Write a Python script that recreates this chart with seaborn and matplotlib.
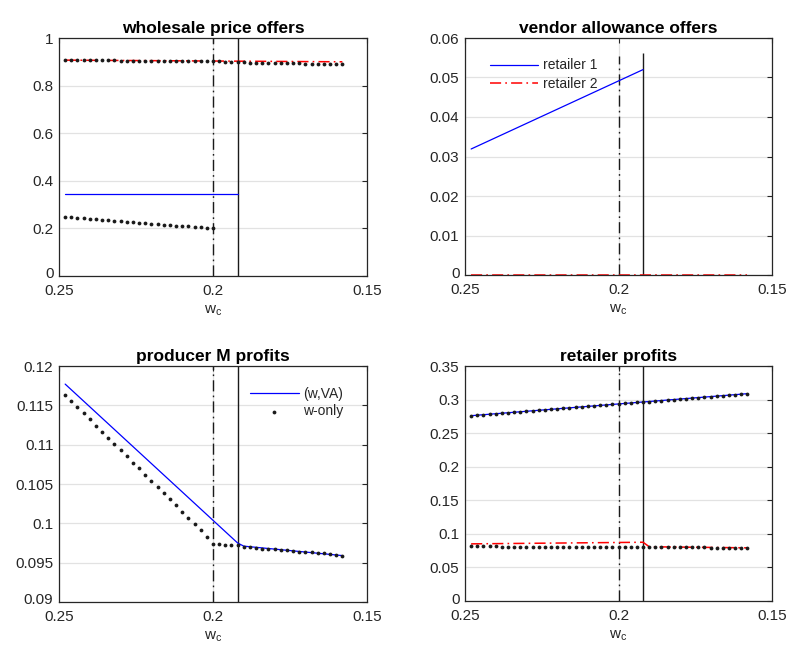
import matplotlib
matplotlib.use("Agg")
import matplotlib.pyplot as plt
import matplotlib.transforms as mtransforms
import seaborn as sns

# ---------------- data ----------------
wc = [0.248, 0.246, 0.244, 0.242, 0.240, 0.238, 0.236, 0.234, 0.232, 0.230,
      0.228, 0.226, 0.224, 0.222, 0.220, 0.218, 0.216, 0.214, 0.212, 0.210,
      0.208, 0.206, 0.204, 0.202, 0.200, 0.198, 0.196, 0.194, 0.192, 0.190,
      0.188, 0.186, 0.184, 0.182, 0.180, 0.178, 0.176, 0.174, 0.172, 0.170,
      0.168, 0.166, 0.164, 0.162, 0.160, 0.158]

wc_dashdot = 0.200
wc_solid = 0.192

# wholesale price offers
w1_va_x = [0.248, 0.192]
w1_va = [0.344, 0.344]
w2_va_x = [0.248, 0.158]
w2_va = [0.907, 0.900]
w1_only = [0.248, 0.246, 0.244, 0.242, 0.240, 0.238, 0.236, 0.234, 0.232, 0.230,
           0.228, 0.226, 0.224, 0.222, 0.220, 0.218, 0.216, 0.214, 0.212, 0.210,
           0.208, 0.206, 0.204, 0.202, 0.201]
w2_only = [0.907, 0.907, 0.907, 0.907, 0.906, 0.906, 0.906, 0.906, 0.906, 0.905,
           0.905, 0.905, 0.905, 0.905, 0.904, 0.904, 0.904, 0.904, 0.904, 0.903,
           0.903, 0.903, 0.903, 0.903, 0.902, 0.902, 0.901, 0.900, 0.899, 0.898,
           0.897, 0.897, 0.896, 0.896, 0.895, 0.894, 0.894, 0.893, 0.893, 0.892,
           0.892, 0.891, 0.891, 0.890, 0.889, 0.889]

# vendor allowance offers
va1_x = [0.248, 0.192]
va1 = [0.0319, 0.0520]
va2_x = [0.248, 0.158]
va2 = [0.0, 0.0]
va_vline_top = [0.0555, 0.0563]   # dash-dot, solid

# producer M profits
pm_va_x = [0.248, 0.192, 0.190, 0.158]
pm_va = [0.1177, 0.0975, 0.0971, 0.0959]
pm_w = [0.1163, 0.1155, 0.1148, 0.1140, 0.1132, 0.1124, 0.1116, 0.1109, 0.1101, 0.1093,
        0.1085, 0.1077, 0.1070, 0.1062, 0.1054, 0.1046, 0.1038, 0.1031, 0.1023, 0.1015,
        0.1007, 0.0999, 0.0991, 0.0983, 0.0974, 0.0974, 0.0973, 0.0972, 0.0972, 0.0970,
        0.0970, 0.0969, 0.0968, 0.0968, 0.0967, 0.0966, 0.0966, 0.0965, 0.0964, 0.0964,
        0.0963, 0.0962, 0.0962, 0.0961, 0.0960, 0.0959]

# retailer profits
rp1_va_x = [0.248, 0.158]
rp1_va = [0.2760, 0.3088]
rp2_va_x = [0.248, 0.192, 0.190, 0.158]
rp2_va = [0.0851, 0.0875, 0.0808, 0.0792]
rp1_w = [0.2760, 0.2767, 0.2775, 0.2782, 0.2789, 0.2796, 0.2804, 0.2811, 0.2818, 0.2826,
         0.2833, 0.2840, 0.2847, 0.2855, 0.2862, 0.2869, 0.2876, 0.2884, 0.2891, 0.2898,
         0.2906, 0.2913, 0.2920, 0.2927, 0.2935, 0.2942, 0.2949, 0.2957, 0.2964, 0.2971,
         0.2978, 0.2986, 0.2993, 0.3000, 0.3007, 0.3015, 0.3022, 0.3029, 0.3037, 0.3044,
         0.3051, 0.3058, 0.3066, 0.3073, 0.3080, 0.3088]
rp2_w = [0.0812, 0.0812, 0.0812, 0.0812, 0.0812, 0.0811, 0.0811, 0.0811, 0.0811, 0.0811,
         0.0811, 0.0810, 0.0810, 0.0810, 0.0810, 0.0810, 0.0810, 0.0809, 0.0809, 0.0809,
         0.0809, 0.0809, 0.0809, 0.0808, 0.0808, 0.0808, 0.0808, 0.0808, 0.0808, 0.0806,
         0.0805, 0.0804, 0.0803, 0.0802, 0.0801, 0.0800, 0.0799, 0.0798, 0.0797, 0.0796,
         0.0795, 0.0794, 0.0793, 0.0792, 0.0791, 0.0790]

xticks = [0.25, 0.2, 0.15]
xticklabels = ["0.25", "0.2", "0.15"]

titles = ["wholesale price offers", "vendor allowance offers",
          "producer M profits", "retailer profits"]

# ---------------- style ----------------
sns.set_theme(style="white")
plt.rcParams['font.family'] = ['Liberation Sans', 'DejaVu Sans']
plt.rcParams['mathtext.default'] = 'regular'
plt.rcParams['lines.scale_dashes'] = False

DK = '#262626'
GRID = '#e2e2e2'
BLUE = '#0000ff'
RED = '#ff0000'
DASHDOT = (8, 3, 1.2, 3)
LW = 0.9
DOT_S = 7.5

fig = plt.figure(figsize=(7.87, 6.48), dpi=100)
W, H = 787, 648


def add_ax(l, r, t, b):
    return fig.add_axes([l / W, 1 - b / H, (r - l) / W, (b - t) / H])


ax_tl = add_ax(59, 367, 38, 276)
ax_tr = add_ax(465, 772, 38, 275)
ax_bl = add_ax(59, 367, 366, 602)
ax_br = add_ax(465, 772, 366, 601)


def style(ax, title, ylim, yticks, yticklabels):
    ax.set_xlim(0.25, 0.15)
    ax.set_xticks(xticks)
    ax.set_xticklabels(xticklabels)
    ax.set_ylim(*ylim)
    ax.set_yticks(yticks)
    ax.set_yticklabels(yticklabels)
    ax.grid(True, color=GRID, linewidth=0.9)
    ax.set_axisbelow(True)
    ax.tick_params(direction='in', length=3.5, width=0.8, top=True, right=True,
                   labelsize=11, colors=DK)
    ax.tick_params(axis='x', pad=5.5)
    ax.tick_params(axis='y', pad=4.0)
    for s in ax.spines.values():
        s.set_color(DK)
        s.set_linewidth(0.9)
        s.set_zorder(5)
    ax.set_title(title, fontsize=12.5, fontweight='bold', pad=3.5, color='black')
    ax.set_xlabel(r'$w_c$', fontsize=11, labelpad=4, color=DK)
    ax.set_ylabel('')
    # lift the lowest y tick label slightly, as in the reference
    lab = ax.get_yticklabels()[0]
    lab.set_transform(lab.get_transform() +
                      mtransforms.ScaledTranslation(0, 3 / 100, fig.dpi_scale_trans))


def vlines(ax, tops=None):
    if tops is None:
        ax.axvline(wc_dashdot, color='k', lw=1.0, dashes=DASHDOT, zorder=3)
        ax.axvline(wc_solid, color='k', lw=1.0, zorder=3)
    else:
        ax.vlines(wc_dashdot, 0, tops[0], color='k', lw=1.0, zorder=3,
                  linestyles=[(0, DASHDOT)])
        ax.vlines(wc_solid, 0, tops[1], color='k', lw=1.0, zorder=3)


def dashdot_line(ax, x, y, color, label=None, clip=True):
    sns.lineplot(x=x, y=y, ax=ax, color=color, linewidth=1.1, sort=False,
                 estimator=None, label=label, legend=False)
    ln = ax.lines[-1]
    ln.set_dashes(DASHDOT)
    ln.set_clip_on(clip)
    ln.set_zorder(4)


def solid_line(ax, x, y, color, label=None):
    sns.lineplot(x=x, y=y, ax=ax, color=color, linewidth=LW, sort=False,
                 estimator=None, label=label, legend=False)
    ax.lines[-1].set_zorder(4)


def dots(ax, x, y, label=None):
    sns.scatterplot(x=x, y=y, ax=ax, color='k', s=DOT_S, linewidth=0,
                    label=label, legend=False, zorder=6)


# ---- wholesale price offers ----
vlines(ax_tl)
solid_line(ax_tl, w1_va_x, w1_va, BLUE)
dashdot_line(ax_tl, w2_va_x, w2_va, RED)
dots(ax_tl, wc[:len(w1_only)], w1_only)
dots(ax_tl, wc, w2_only)
style(ax_tl, titles[0], (0, 1), [0, 0.2, 0.4, 0.6, 0.8, 1],
      ["0", "0.2", "0.4", "0.6", "0.8", "1"])

# ---- vendor allowance offers ----
vlines(ax_tr, va_vline_top)
solid_line(ax_tr, va1_x, va1, BLUE, label='retailer 1')
dashdot_line(ax_tr, va2_x, va2, RED, label='retailer 2', clip=False)
style(ax_tr, titles[1], (0, 0.06), [0, 0.01, 0.02, 0.03, 0.04, 0.05, 0.06],
      ["0", "0.01", "0.02", "0.03", "0.04", "0.05", "0.06"])
h, l = ax_tr.get_legend_handles_labels()
ax_tr.legend(h, l, loc='upper left', bbox_to_anchor=(0.08, 0.914), frameon=False,
             fontsize=10, handlelength=3.5, handletextpad=0.35, borderpad=0,
             borderaxespad=0, labelspacing=0.35)

# ---- producer M profits ----
vlines(ax_bl)
solid_line(ax_bl, pm_va_x, pm_va, BLUE, label='(w,VA)')
dots(ax_bl, wc, pm_w, label='w-only')
style(ax_bl, titles[2], (0.09, 0.12), [0.09, 0.095, 0.1, 0.105, 0.11, 0.115, 0.12],
      ["0.09", "0.095", "0.1", "0.105", "0.11", "0.115", "0.12"])
h, l = ax_bl.get_legend_handles_labels()
ax_bl.legend(h, l, loc='upper left', bbox_to_anchor=(0.62, 0.912), frameon=False,
             fontsize=10, handlelength=3.5, handletextpad=0.35, borderpad=0,
             borderaxespad=0, labelspacing=0.25, scatterpoints=1, markerscale=1.0)

# ---- retailer profits ----
vlines(ax_br)
solid_line(ax_br, rp1_va_x, rp1_va, BLUE)
dashdot_line(ax_br, rp2_va_x, rp2_va, RED)
dots(ax_br, wc, rp1_w)
dots(ax_br, wc, rp2_w)
style(ax_br, titles[3], (0, 0.35), [0, 0.05, 0.1, 0.15, 0.2, 0.25, 0.3, 0.35],
      ["0", "0.05", "0.1", "0.15", "0.2", "0.25", "0.3", "0.35"])

fig.savefig("out.png", dpi=100)
